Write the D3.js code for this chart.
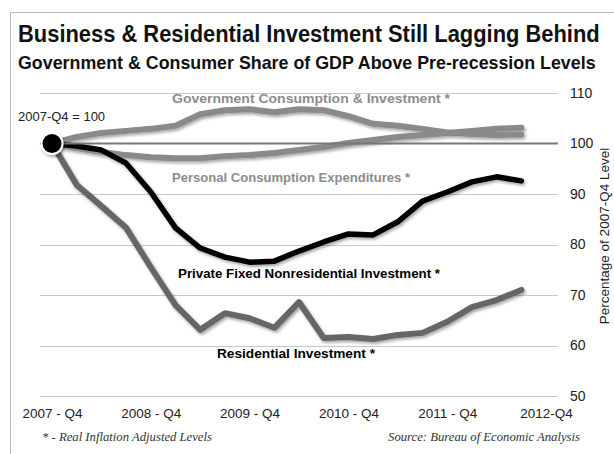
<!DOCTYPE html>
<html>
<head>
<meta charset="utf-8">
<script src="https://cdn.jsdelivr.net/npm/d3@7"></script>
<style>
  body { margin: 0; background: #fff; }
  svg text { font-family: "Liberation Sans", Arial, sans-serif; }
</style>
</head>
<body>
<div id="chart"></div>
<script>
// 1: DATA (2007-Q4 = 100)
const quarters = ["2007-Q4","2008-Q1","2008-Q2","2008-Q3","2008-Q4","2009-Q1","2009-Q2","2009-Q3","2009-Q4","2010-Q1",
                  "2010-Q2","2010-Q3","2010-Q4","2011-Q1","2011-Q2","2011-Q3","2011-Q4","2012-Q1","2012-Q2","2012-Q3"];
const government = [100, 101.3, 102.1, 102.5, 102.9, 103.5, 105.8, 106.6, 106.8, 106.2,
                    106.8, 106.6, 105.4, 103.9, 103.5, 102.9, 102.2, 101.9, 101.7, 101.8];
const personal = [100, 99.1, 98.3, 97.7, 97.3, 97.1, 97.1, 97.5, 97.7, 98.1,
                  98.7, 99.3, 100.1, 100.7, 101.3, 101.7, 102.1, 102.5, 102.9, 103.1];
const nonresidential = [100, 99.5, 98.7, 96.1, 90.4, 83.3, 79.3, 77.5, 76.5, 76.7,
                        78.7, 80.5, 82.1, 81.9, 84.5, 88.6, 90.4, 92.4, 93.4, 92.6];
const residential = [100, 91.8, 87.6, 83.3, 75.5, 68.0, 63.1, 66.4, 65.4, 63.5,
                     68.6, 61.5, 61.7, 61.3, 62.1, 62.5, 64.7, 67.6, 69.0, 71.0];
const xTickIndex = [0, 4, 8, 12, 16, 20];
const xTickLabels = ["2007 - Q4", "2008 - Q4", "2009 - Q4", "2010 - Q4", "2011 - Q4", "2012-Q4"];
const yTicks = [50, 60, 70, 80, 90, 100, 110];

const W = 614, H = 454;

const svg = d3.select("#chart").append("svg")
    .attr("width", W).attr("height", H);

// soft shadow behind the lines
const defs = svg.append("defs");
const shadow = defs.append("filter").attr("id", "shadow")
    .attr("x", "-10%").attr("y", "-10%").attr("width", "120%").attr("height", "130%");
shadow.append("feDropShadow")
    .attr("dx", 1.5).attr("dy", 2).attr("stdDeviation", 1.5)
    .attr("flood-color", "#000").attr("flood-opacity", 0.35);

// frame
svg.append("rect")
    .attr("x", 10.5).attr("y", 12.5)
    .attr("width", W).attr("height", H)
    .attr("fill", "none").attr("stroke", "#bbb");

// 2: SCALES
const x = d3.scaleLinear().domain([0, 20]).range([52, 546]);
const y = d3.scaleLinear().domain([50, 110]).range([396, 93]);
const gridLeft = 40, gridRight = 558;

// 3: GRIDLINES
svg.append("g").selectAll("line")
    .data(yTicks.filter(d => d !== 100))
    .join("line")
    .attr("x1", gridLeft).attr("x2", gridRight)
    .attr("y1", d => Math.round(y(d)) + 0.5).attr("y2", d => Math.round(y(d)) + 0.5)
    .attr("stroke", "#c8c8c8").attr("stroke-width", 1);

// y axis labels on the right
const yAxis = svg.append("g")
    .attr("transform", `translate(${gridRight + 8},0)`)
    .call(d3.axisRight(y).tickValues(yTicks).tickSize(0).tickPadding(4));
yAxis.select(".domain").remove();
yAxis.selectAll("text")
    .style("font-size", "14px").style("fill", "#222")
    .style("font-family", "'Liberation Sans', Arial, sans-serif");

// x axis labels
const xAxis = svg.append("g")
    .attr("transform", "translate(0,404)")
    .call(d3.axisBottom(x).tickValues(xTickIndex).tickSize(0).tickPadding(4)
        .tickFormat((d, i) => xTickLabels[i]));
xAxis.select(".domain").remove();
xAxis.selectAll("text")
    .style("font-size", "13.5px").style("fill", "#222")
    .style("font-family", "'Liberation Sans', Arial, sans-serif");

// 4: LINES
const line = d3.line()
    .x((d, i) => x(i))
    .y(d => y(d));

const series = [
    { values: government, color: "#8a8a8a", width: 6 },
    { values: personal, color: "#8a8a8a", width: 6 },
    { values: residential, color: "#666", width: 6 },
    { values: nonresidential, color: "#000", width: 5.5 }
];

const lines = svg.append("g").attr("filter", "url(#shadow)");
lines.selectAll("path")
    .data(series)
    .join("path")
    .attr("fill", "none")
    .attr("stroke", d => d.color)
    .attr("stroke-width", d => d.width)
    .attr("stroke-linejoin", "round")
    .attr("stroke-linecap", "round")
    .attr("d", d => line(d.values));

// baseline at 100 (drawn above the gray lines)
svg.append("line")
    .attr("x1", gridLeft).attr("x2", gridRight)
    .attr("y1", y(100)).attr("y2", y(100))
    .attr("stroke", "#777").attr("stroke-width", 2);

// start marker
svg.append("circle")
    .attr("cx", x(0)).attr("cy", y(100)).attr("r", 10.5)
    .attr("fill", "#000").attr("stroke", "#fff").attr("stroke-width", 2)
    .attr("filter", "url(#shadow)");

// 5: LABELS
// condensed headings: squeeze the text horizontally to the width seen in the picture
function condensed(text, x0, y0, size, targetWidth) {
    const g = svg.append("g");
    const t = g.append("text")
        .attr("x", 0).attr("y", 0)
        .style("font-size", size + "px").style("font-weight", "bold").style("fill", "#111")
        .text(text);
    const natural = t.node().getComputedTextLength();
    g.attr("transform", `translate(${x0},${y0}) scale(${targetWidth / natural},1)`);
}
condensed("Business & Residential Investment Still Lagging Behind", 18, 42, 24, 582);
condensed("Government & Consumer Share of GDP Above Pre-recession Levels", 18, 69, 18, 578);

const seriesLabels = [
    { text: "Government Consumption & Investment *", x: 172, y: 103, color: "#8c8c8c", len: 278 },
    { text: "Personal Consumption Expenditures *", x: 172, y: 182, color: "#8c8c8c", len: 238 },
    { text: "Private Fixed Nonresidential Investment *", x: 178, y: 278, color: "#000", len: 262 },
    { text: "Residential Investment *", x: 217, y: 358, color: "#000", len: 158 }
];
svg.append("g").selectAll("text")
    .data(seriesLabels)
    .join("text")
    .attr("x", d => d.x).attr("y", d => d.y)
    .attr("textLength", d => d.len).attr("lengthAdjust", "spacingAndGlyphs")
    .style("font-size", "13px").style("font-weight", "bold")
    .style("fill", d => d.color)
    .text(d => d.text);

svg.append("text")
    .attr("x", 18).attr("y", 121)
    .style("font-size", "13px").style("fill", "#222")
    .text("2007-Q4 = 100");

svg.append("text")
    .attr("transform", "translate(609,236) rotate(-90)")
    .attr("text-anchor", "middle")
    .style("font-size", "13.5px").style("fill", "#222")
    .text("Percentage of 2007-Q4 Level");

svg.append("text")
    .attr("x", 42).attr("y", 441)
    .style("font-family", "'Liberation Serif', 'DejaVu Serif', serif")
    .style("font-style", "italic").style("font-size", "12.7px").style("fill", "#333")
    .text("* - Real Inflation Adjusted Levels");

svg.append("text")
    .attr("x", 580).attr("y", 441).attr("text-anchor", "end")
    .style("font-family", "'Liberation Serif', 'DejaVu Serif', serif")
    .style("font-style", "italic").style("font-size", "12.7px").style("fill", "#333")
    .text("Source: Bureau of Economic Analysis");
</script>
</body>
</html>
